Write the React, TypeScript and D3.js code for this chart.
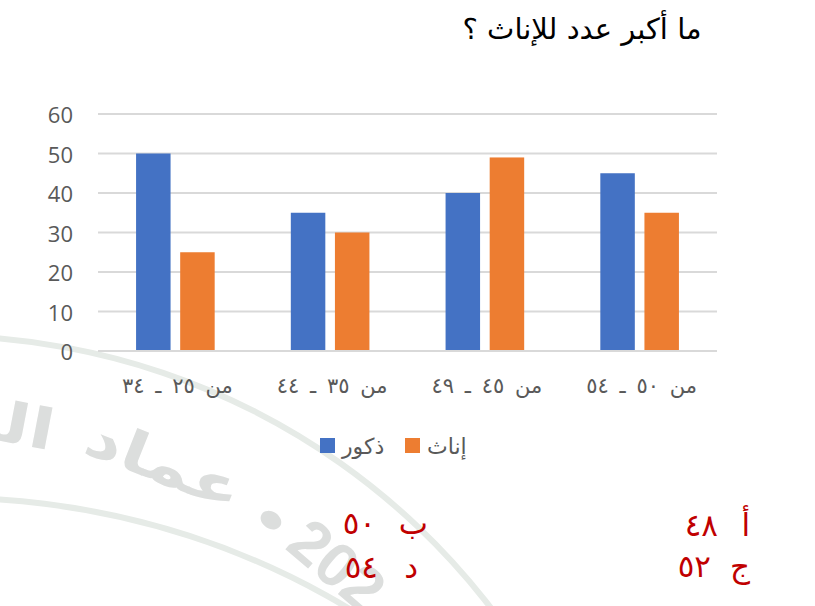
import React from "react";
import * as d3 from "d3";

const title = "ما أكبر عدد للإناث ؟";
const categories = ["من ٢٥ ـ ٣٤", "من ٣٥ ـ ٤٤", "من ٤٥ ـ ٤٩", "من ٥٠ ـ ٥٤"];
const seriesNames = ["ذكور", "إناث"];
const males = [50, 35, 40, 45];
const females = [25, 30, 49, 35];
const yTicks = [0, 10, 20, 30, 40, 50, 60];
const optionLetters = ["أ", "ب", "ج", "د"];
const optionValues = ["٤٨", "٥٠", "٥٢", "٥٤"];
const stampWords = ["الع", "عماد", "•", "202"];

const W = 815;
const H = 606;
const COLORS = ["#4472C4", "#ED7D31"];
const ARABIC = "'DejaVu Sans', sans-serif";
const toRad = (deg: number) => (deg * Math.PI) / 180;

export default function App() {
  const plot = { left: 98, right: 717, top: 114, bottom: 351 };

  const y = d3.scaleLinear().domain([0, 60]).range([plot.bottom, plot.top]);
  const x0 = d3
    .scaleBand<string>()
    .domain(categories)
    .range([plot.left, plot.right])
    .paddingInner(0.492)
    .paddingOuter(0.246);
  const x1 = d3
    .scaleBand<string>()
    .domain(seriesNames)
    .range([0, x0.bandwidth()])
    .paddingInner(0.218);
  const color = d3.scaleOrdinal<string, string>().domain(seriesNames).range(COLORS);
  const seriesValues = [males, females];

  // faint circular stamp behind the chart (watermark)
  const stamp = { cx: -60, cy: 1030, r: 590 };
  const ring = d3.arc();
  const outerArc = ring({
    innerRadius: 691,
    outerRadius: 697,
    startAngle: toRad(-6),
    endAngle: toRad(60),
  } as any);
  const innerArc = ring({
    innerRadius: 772,
    outerRadius: 778,
    startAngle: toRad(-4),
    endAngle: toRad(40),
  } as any);
  const wordAngles = [10.8, 21.6, 33, 40.5];
  const wordAnchors = ["end", "middle", "middle", "middle"];
  const wordSizes = [56, 56, 48, 62];

  // answer choices: two columns, right one first
  const optLayout = [
    { letterX: 750, numX: 718, y: 536 },
    { letterX: 428, numX: 376, y: 534 },
    { letterX: 750, numX: 711, y: 577 },
    { letterX: 418, numX: 378, y: 578 },
  ];

  return (
    <svg
      width={W}
      height={H}
      style={{ position: "absolute", left: 0, top: 0, background: "#fff" }}
    >
      {/* watermark */}
      <path d={outerArc || ""} transform={`translate(${stamp.cx},${stamp.cy})`} fill="#e6ebe7" />
      <path d={innerArc || ""} transform="translate(-50,1273)" fill="#e6ebe7" />
      <g transform={`translate(${stamp.cx},${stamp.cy})`}>
        {stampWords.map((w, i) => {
          const a = toRad(wordAngles[i]);
          const px = stamp.r * Math.sin(a);
          const py = -stamp.r * Math.cos(a);
          return (
            <text
              key={i}
              transform={`translate(${px},${py}) rotate(${wordAngles[i]}) scale(${i === 3 ? 1 : 1.3},1)`}
              textAnchor={wordAnchors[i]}
              fontFamily={i === 3 ? "'Liberation Sans', sans-serif" : ARABIC}
              fontSize={wordSizes[i]}
              fontWeight="bold"
              fill="#dcdedd"
            >
              {w}
            </text>
          );
        })}
      </g>

      {/* title */}
      <text
        x={582}
        y={39}
        textAnchor="middle"
        fontFamily={ARABIC}
        fontSize={29}
        fill="#000"
        direction="rtl"
      >
        {title}
      </text>

      {/* gridlines */}
      {yTicks.map((t) => (
        <line
          key={t}
          x1={plot.left}
          x2={plot.right}
          y1={y(t)}
          y2={y(t)}
          stroke="#d9d9d9"
          strokeWidth={2}
        />
      ))}

      {/* y tick labels */}
      {yTicks.map((t) => (
        <text
          key={t}
          x={73}
          y={y(t)}
          textAnchor="end"
          dominantBaseline="central"
          fontFamily="'Open Sans', sans-serif"
          fontSize={22}
          fill="#595959"
        >
          {t}
        </text>
      ))}

      {/* bars */}
      {categories.map((c, ci) => (
        <g key={c} transform={`translate(${x0(c)},0)`}>
          {seriesNames.map((s, si) => (
            <rect
              key={s}
              x={x1(s)}
              y={y(seriesValues[si][ci])}
              width={x1.bandwidth()}
              height={y(0) - y(seriesValues[si][ci]) - 1}
              fill={color(s)}
            />
          ))}
        </g>
      ))}

      {/* category labels */}
      {categories.map((c) => (
        <text
          key={c}
          x={(x0(c) as number) + x0.bandwidth() / 2 + 2}
          y={386}
          textAnchor="middle"
          dominantBaseline="central"
          fontFamily={ARABIC}
          fontSize={21}
          wordSpacing={4}
          fill="#595959"
          direction="rtl"
        >
          {c}
        </text>
      ))}

      {/* legend */}
      {seriesNames.map((s, i) => {
        const lx = 320 + i * 85;
        return (
          <g key={s}>
            <rect x={lx} y={438} width={15} height={15} fill={color(s)} />
            <text
              x={lx + 22}
              y={446}
              dominantBaseline="central"
              fontFamily={ARABIC}
              fontSize={22}
              fill="#595959"
            >
              {s}
            </text>
          </g>
        );
      })}

      {/* answer choices */}
      {optionLetters.map((l, i) => (
        <g key={l} fill="#C00000" fontFamily={ARABIC} fontSize={31}>
          <text x={optLayout[i].letterX} y={optLayout[i].y} textAnchor="end">
            {l}
          </text>
          <text x={optLayout[i].numX} y={optLayout[i].y} textAnchor="end">
            {optionValues[i]}
          </text>
        </g>
      ))}
    </svg>
  );
}
